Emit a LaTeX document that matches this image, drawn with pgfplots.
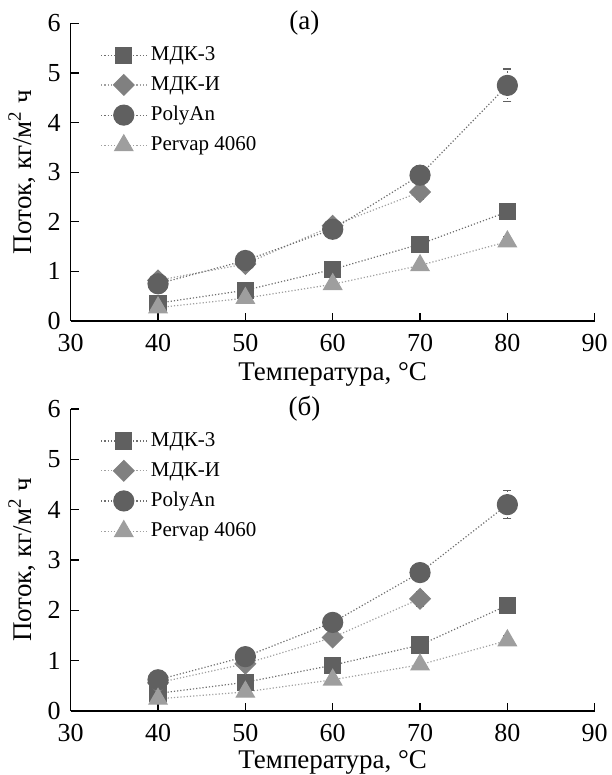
\documentclass[border=0pt]{standalone}
\usepackage{fontspec}
\setmainfont{Liberation Serif}
\usepackage{pgfplots}
\pgfplotsset{compat=1.18}
\definecolor{gDark}{RGB}{96,96,96}
\definecolor{gMid}{RGB}{128,128,128}
\definecolor{gLight}{RGB}{158,158,158}
\definecolor{lnDark}{RGB}{110,110,110}
\definecolor{lnLight}{RGB}{160,160,160}

\pgfplotsset{
  flux/.style={
    scale only axis,
    width=262pt,
    xmin=30, xmax=90, ymin=0, ymax=6,
    xtick={30,40,...,90}, ytick={0,1,...,6},
    axis lines*=left,
    tick align=inside,
    major tick length=4pt,
    tick style={black, line width=0.6pt},
    axis line style={black, line width=0.6pt},
    ticklabel style={font=\fontsize{13}{15}\selectfont},
    xticklabel style={yshift=-3pt},
    yticklabel style={xshift=-1.5pt},
    /pgf/number format/assume math mode=true,
    xlabel={Температура, °C},
    ylabel={Поток, кг/м\textsuperscript{2} ч},
    label style={font=\fontsize{13.5}{15}\selectfont},
    xlabel style={at={(axis description cs:0.5,0)}, anchor=base, yshift=-30pt},
    ylabel style={at={(axis description cs:-0.093,0.5)}, anchor=center},
    clip=false,
    legend cell align=left,
    legend style={at={(axis description cs:0.045,0.95)}, anchor=north west, draw=none, fill=none,
      font=\fontsize{10.5}{12}\selectfont, row sep=2.5pt},
    legend image code/.code={
      \draw[mark repeat=2, mark phase=2] plot coordinates {(0pt,0pt) (11.25pt,0pt) (22.5pt,0pt)};},
    error bars/error bar style={gDark, line width=0.6pt},
    error bars/error mark options={rotate=90, mark size=2pt, gDark, line width=0.6pt},
  },
  sq/.style={densely dotted, lnDark, line width=0.6pt, mark=square*, mark size=4pt,
    mark options={solid, fill=gDark, draw=gDark}},
  dm/.style={densely dotted, lnLight, line width=0.6pt, mark=square*, mark size=3.6pt,
    mark options={solid, rotate=45, fill=gMid, draw=gMid}},
  ci/.style={densely dotted, lnDark, line width=0.6pt, mark=*, mark size=5pt,
    mark options={solid, fill=gDark, draw=gDark}},
  tr/.style={densely dotted, lnLight, line width=0.6pt, mark=triangle*, mark size=5.2pt,
    mark options={solid, fill=gLight, draw=gLight}},
}

\begin{document}
\begin{tikzpicture}
\path[use as bounding box] (0,0) rectangle (305.5pt,387.5pt);

% (a)
\begin{axis}[flux, height=148.8pt, at={(35.35pt,227pt)}, anchor=south west]
\addplot[sq, error bars/.cd, y dir=both, y explicit] coordinates {
  (40,0.36) +- (0,0.03) (50,0.62) +- (0,0.03) (60,1.04) +- (0,0.05)
  (70,1.55) +- (0,0.05) (80,2.2) +- (0,0.12)};
\addlegendentry{МДК-3}
\addplot[dm, error bars/.cd, y dir=both, y explicit] coordinates {
  (40,0.82) +- (0,0.03) (50,1.15) +- (0,0.03) (60,1.92) +- (0,0.05)
  (70,2.6) +- (0,0.15)};
\addlegendentry{МДК-И}
\addplot[ci, error bars/.cd, y dir=both, y explicit] coordinates {
  (40,0.75) +- (0,0.03) (50,1.22) +- (0,0.05) (60,1.85) +- (0,0.05)
  (70,2.94) +- (0,0.2) (80,4.75) +- (0,0.33)};
\addlegendentry{PolyAn}
\addplot[tr, error bars/.cd, y dir=both, y explicit] coordinates {
  (40,0.27) +- (0,0.03) (50,0.46) +- (0,0.03) (60,0.74) +- (0,0.05)
  (70,1.12) +- (0,0.08) (80,1.6) +- (0,0.1)};
\addlegendentry{Pervap 4060}
\node[font=\fontsize{13.5}{15}\selectfont] at (rel axis cs:0.446,1) {(a)};
\end{axis}

% (б)
\begin{axis}[flux, height=151pt, at={(35.35pt,32pt)}, anchor=south west,
  xlabel style={yshift=1.5pt}]
\addplot[sq, error bars/.cd, y dir=both, y explicit] coordinates {
  (40,0.35) +- (0,0.03) (50,0.57) +- (0,0.03) (60,0.91) +- (0,0.05)
  (70,1.31) +- (0,0.05) (80,2.1) +- (0,0.08)};
\addlegendentry{МДК-3}
\addplot[dm, error bars/.cd, y dir=both, y explicit] coordinates {
  (40,0.56) +- (0,0.03) (50,0.94) +- (0,0.03) (60,1.46) +- (0,0.05)
  (70,2.23) +- (0,0.15)};
\addlegendentry{МДК-И}
\addplot[ci, error bars/.cd, y dir=both, y explicit] coordinates {
  (40,0.62) +- (0,0.03) (50,1.08) +- (0,0.05) (60,1.76) +- (0,0.05)
  (70,2.75) +- (0,0.17) (80,4.1) +- (0,0.28)};
\addlegendentry{PolyAn}
\addplot[tr, error bars/.cd, y dir=both, y explicit] coordinates {
  (40,0.24) +- (0,0.03) (50,0.38) +- (0,0.03) (60,0.62) +- (0,0.05)
  (70,0.92) +- (0,0.06) (80,1.4) +- (0,0.1)};
\addlegendentry{Pervap 4060}
\node[font=\fontsize{13.5}{15}\selectfont] at (rel axis cs:0.446,1) {(б)};
\end{axis}
\end{tikzpicture}
\end{document}
